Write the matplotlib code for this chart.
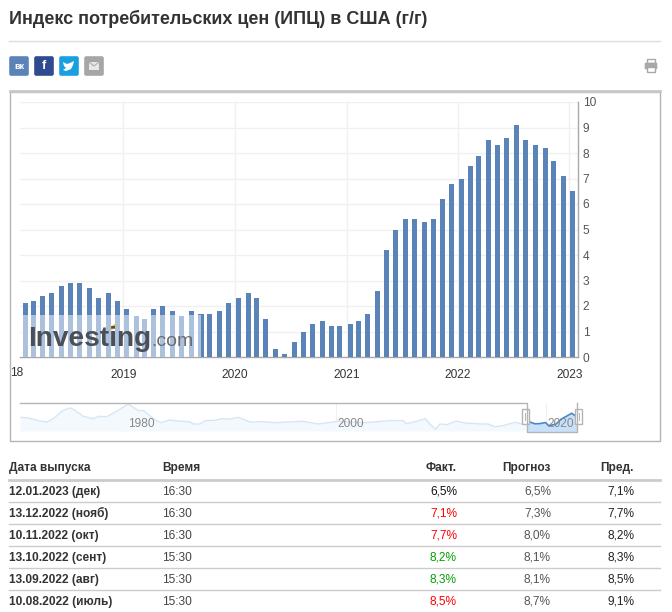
"""US CPI y/y chart with navigator and release table (screenshot layout, pixel positioned)."""
import matplotlib
matplotlib.use("Agg")
import matplotlib.dates as mdates
import matplotlib.pyplot as plt
import pandas as pd
from matplotlib.patches import FancyBboxPatch, Polygon, Rectangle

plt.rcParams["font.family"] = ["Liberation Sans", "DejaVu Sans"]

W, H = 672, 612

RELEASE_DATES = [
    "2018-02-14", "2018-03-13", "2018-04-11", "2018-05-10", "2018-06-12", "2018-07-12",
    "2018-08-10", "2018-09-13", "2018-10-11", "2018-11-14", "2018-12-12",
    "2019-01-11", "2019-02-13", "2019-03-12", "2019-04-10", "2019-05-10", "2019-06-12",
    "2019-07-11", "2019-08-13", "2019-09-12", "2019-10-10", "2019-11-13", "2019-12-11",
    "2020-01-14", "2020-02-13", "2020-03-11", "2020-04-10", "2020-05-12", "2020-06-10",
    "2020-07-14", "2020-08-12", "2020-09-11", "2020-10-13", "2020-11-12", "2020-12-10",
    "2021-01-13", "2021-02-10", "2021-03-10", "2021-04-13", "2021-05-12", "2021-06-10",
    "2021-07-13", "2021-08-11", "2021-09-14", "2021-10-13", "2021-11-10", "2021-12-10",
    "2022-01-12", "2022-02-10", "2022-03-10", "2022-04-12", "2022-05-11", "2022-06-10",
    "2022-07-13", "2022-08-10", "2022-09-13", "2022-10-13", "2022-11-10", "2022-12-13",
    "2023-01-12",
]
CPI = [
    2.1, 2.2, 2.4, 2.5, 2.8, 2.9, 2.9, 2.7, 2.3, 2.5, 2.2,
    1.9, 1.6, 1.5, 1.9, 2.0, 1.8, 1.6, 1.8, 1.7, 1.7, 1.8, 2.1,
    2.3, 2.5, 2.3, 1.5, 0.3, 0.1, 0.6, 1.0, 1.3, 1.4, 1.2, 1.2,
    1.3, 1.4, 1.7, 2.6, 4.2, 5.0, 5.4, 5.4, 5.3, 5.4, 6.2, 6.8,
    7.0, 7.5, 7.9, 8.5, 8.3, 8.6, 9.1, 8.5, 8.3, 8.2, 7.7, 7.1, 6.5,
]
Y_TICKS = list(range(0, 11))
X_YEARS = [2019, 2020, 2021, 2022, 2023]

NAV_YEARS = [
    1969.8, 1970.6, 1971.55, 1972.35, 1973.0, 1973.9, 1974.6, 1975.05, 1975.85, 1976.8,
    1977.3, 1978.1, 1978.9, 1980.15, 1981.1, 1981.6, 1982.7, 1983.3, 1984.1, 1985.2,
    1986.0, 1986.35, 1987.0, 1987.5, 1988.4, 1989.05, 1989.7, 1990.65, 1991.8, 1993.2,
    1994.15, 1995.4, 1996.85, 1998.3, 2000.2, 2002.75, 2004.35, 2005.1, 2006.4, 2006.7,
    2007.7, 2008.5, 2009.0, 2009.5, 2009.9, 2010.55, 2011.5, 2012.3, 2013.9, 2014.5,
    2015.15, 2015.8, 2017.1, 2017.7, 2018.2,
]
NAV_VALUES = [
    6.2, 5.8, 3.9, 2.9, 5.3, 11.2, 12.9, 11.2, 6.9, 5.3,
    6.9, 6.7, 10.0, 15.7, 11.0, 11.0, 4.3, 2.4, 4.3, 3.4,
    3.1, 1.5, 1.5, 3.9, 4.1, 5.3, 4.8, 6.2, 2.9, 3.1,
    2.4, 2.9, 3.4, 1.5, 3.4, 2.4, 3.4, 3.9, 3.9, 1.7,
    3.4, 5.3, 1.0, -2.3, 1.5, 1.0, 3.6, 2.2, 1.5, 1.5,
    -0.4, 0.1, 2.7, 1.5, 2.0,
]
NAV_WIN_YEARS = [2018.2, 2018.5, 2019, 2019.5, 2020, 2020.3, 2020.5, 2021, 2021.5, 2022, 2022.5, 2023]
NAV_WIN_VALUES = [2.0, 2.9, 1.6, 1.8, 2.5, 0.3, 0.6, 1.4, 5.0, 7.0, 9.1, 6.5]
NAV_LABELS = [1980, 2000, 2020]

TABLE_HEAD = ["Дата выпуска", "Время", "Факт.", "Прогноз", "Пред."]
DATES = ["12.01.2023 (дек)", "13.12.2022 (нояб)", "10.11.2022 (окт)",
         "13.10.2022 (сент)", "13.09.2022 (авг)", "10.08.2022 (июль)"]
TIMES = ["16:30", "16:30", "16:30", "15:30", "15:30", "15:30"]
ACTUAL = ["6,5%", "7,1%", "7,7%", "8,2%", "8,3%", "8,5%"]
FORECAST = ["6,5%", "7,3%", "8,0%", "8,1%", "8,1%", "8,7%"]
PREVIOUS = ["7,1%", "7,7%", "8,2%", "8,3%", "8,5%", "9,1%"]
ACTUAL_COLORS = ["#111111", "#ff0000", "#ff0000", "#00a000", "#00a000", "#ff0000"]


def px_axes(fig, left, top, right, bottom, **kw):
    return fig.add_axes([left / W, 1 - bottom / H, (right - left) / W, (bottom - top) / H], **kw)


fig = plt.figure(figsize=(W / 100, H / 100), dpi=100, facecolor="white")

# page chrome, drawn in pixel coordinates
bg = px_axes(fig, 0, 0, W, H, zorder=0)
bg.set_xlim(0, W)
bg.set_ylim(H, 0)
bg.axis("off")

bg.text(9, 18.5, "Индекс потребительских цен (ИПЦ) в США (г/г)", fontsize=12.95,
        fontweight="bold", color="#333333", va="center")
bg.plot([9, 660], [41, 41], color="#dcdcdc", lw=1)

for x, c in zip([9, 34, 59, 84], ["#5b83b8", "#2f4a8e", "#1a9fe0", "#a6a6a6"]):
    bg.add_patch(FancyBboxPatch((x + 1, 57), 18, 18, boxstyle="round,pad=0.8,rounding_size=2",
                                fc=c, ec="none"))
bg.text(19, 66.5, "вк", color="white", fontsize=6.5, fontweight="bold", ha="center", va="center")
bg.text(44, 66, "f", color="white", fontsize=9, fontweight="bold", ha="center", va="center")
bg.add_patch(Polygon([(63, 62), (67, 64), (70, 63), (74, 61), (73, 65), (71, 69), (66, 71), (63, 70),
                      (66, 68), (64, 66)], fc="white", ec="none"))
bg.add_patch(Rectangle((89, 62), 10, 8, fc="#e8e8e8", ec="none"))
bg.plot([89, 94, 99], [62, 66, 62], color="#a6a6a6", lw=0.7)

# print icon
bg.add_patch(Rectangle((647, 59), 8, 4, fc="white", ec="#a8a8a8", lw=1))
bg.add_patch(FancyBboxPatch((645, 63), 12, 6, boxstyle="round,pad=0.3,rounding_size=1",
                            fc="#a8a8a8", ec="none"))
bg.add_patch(Rectangle((647, 67), 8, 5, fc="white", ec="#a8a8a8", lw=1))

# chart frame
bg.add_patch(Rectangle((9.5, 91.5), 650.5, 349.5, fc="white", ec="#b4b4b4", lw=1))
bg.plot([9.5, 660], [91, 91], color="#c8c8c8", lw=2)

# main bars
dates = pd.to_datetime(RELEASE_DATES)
ax = px_axes(fig, 20, 102, 578, 357, zorder=1)
ax.patch.set_alpha(0)
ax.bar(dates, CPI, width=16.5, color="#5a84b8", zorder=3)
ax.set_xlim(mdates.date2num(pd.Timestamp("2018-01-27")), mdates.date2num(pd.Timestamp("2023-01-29")))
ax.set_ylim(0, 10)
ax.set_xticks([pd.Timestamp(f"{y}-01-01") for y in X_YEARS])
ax.set_xticklabels([str(y) for y in X_YEARS], fontsize=8.6, color="#333333")
ax.yaxis.tick_right()
ax.set_yticks(Y_TICKS)
ax.tick_params(axis="y", length=0, pad=3.5, labelsize=8.6, labelcolor="#555555")
ax.tick_params(axis="x", length=0, pad=9)
ax.grid(True, color="#f0f0f0", lw=1, zorder=0)
ax.set_axisbelow(True)
for side in ("top", "left"):
    ax.spines[side].set_visible(False)
for side in ("bottom", "right"):
    ax.spines[side].set_color("#a8a8a8")
    ax.spines[side].set_linewidth(1)

# navigator
nav = px_axes(fig, 20, 403, 578, 432, zorder=1)
nav.patch.set_alpha(0)
nav.set_xlim(1969.8, 2023.1)
nav.set_ylim(-4.2, 16.4)
nav.axis("off")
nav.fill_between(NAV_YEARS, NAV_VALUES, -3.5, color="#f4f9fe", lw=0)
nav.plot(NAV_YEARS, NAV_VALUES, color="#d6e6f6", lw=1)
nav.fill_between(NAV_WIN_YEARS, NAV_WIN_VALUES, -4.2, color="#c9e0fb", lw=0)
nav.plot(NAV_WIN_YEARS, NAV_WIN_VALUES, color="#4a86c8", lw=1.2)
for y in NAV_LABELS:
    nav.axvline(y, color="#f0f0f0", lw=0.8, zorder=0)

# navigator outline, handles and labels sit on top
over = px_axes(fig, 0, 0, W, H, zorder=3)
over.patch.set_alpha(0)
over.set_xlim(0, W)
over.set_ylim(H, 0)
over.axis("off")
over.plot([20, 527, 527, 577, 577], [403, 403, 432, 432, 403], color="#b4b4b4", lw=1)
for x, lab in zip([141, 351, 561], NAV_LABELS):
    over.text(x, 424, str(lab), fontsize=8.6, color="#888888", ha="center", va="center")
for x in (525.5, 578):
    over.add_patch(Rectangle((x - 3.5, 409), 7, 15, fc="white", ec="#b4b4b4", lw=1))
    over.plot([x - 1, x - 1], [413, 420], color="#b4b4b4", lw=0.7)
    over.plot([x + 1, x + 1], [413, 420], color="#b4b4b4", lw=0.7)

# watermark
over.add_patch(Rectangle((20.5, 315), 180.5, 41.5, fc="white", alpha=0.5, ec="none"))
over.text(28.5, 346, "Investing", fontsize=20.2, fontweight="bold", color="#4b4f57", va="baseline", ha="left")
over.text(151, 346, ".com", fontsize=14, color="#6a6d72", va="baseline", ha="left")
over.add_patch(Polygon([(110, 327), (115, 324), (116, 328), (111, 330)], fc="#f5b82e", ec="none"))

over.text(10, 373, "18", fontsize=8.6, color="#333333", va="center", ha="left")

# table, baseline aligned so the columns line up
ROW_Y = [495, 517, 539, 561, 583, 605]
for x, txt, ha in zip([9, 162, 457, 551, 634], TABLE_HEAD, ["left", "left", "right", "right", "right"]):
    bg.text(x, 471, txt, fontsize=8.6, fontweight="bold", color="#333333", ha=ha, va="baseline")
bg.plot([9, 660], [480, 480], color="#cccccc", lw=2)
for i, y in enumerate(ROW_Y):
    bg.text(9, y, DATES[i], fontsize=8.6, fontweight="bold", color="#333333", va="baseline")
    bg.text(162, y, TIMES[i], fontsize=8.6, color="#444444", va="baseline")
    bg.text(457, y, ACTUAL[i], fontsize=8.6, color=ACTUAL_COLORS[i], ha="right", va="baseline")
    bg.text(551, y, FORECAST[i], fontsize=8.6, color="#555555", ha="right", va="baseline")
    bg.text(634, y, PREVIOUS[i], fontsize=8.6, color="#222222", ha="right", va="baseline")
    if i < len(ROW_Y) - 1:
        bg.plot([9, 660], [y + 7, y + 7], color="#cccccc", lw=1)

fig.savefig("out.png", dpi=100)
